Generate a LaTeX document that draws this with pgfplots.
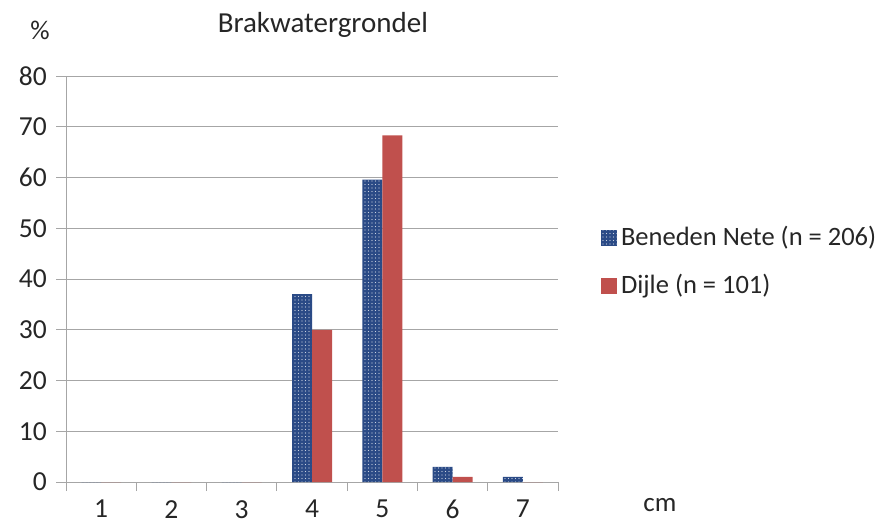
\documentclass[border=0pt]{standalone}
\usepackage{pgfplots}
\pgfplotsset{compat=1.18}
\usepackage{fontspec}
\setmainfont{Carlito}
\usetikzlibrary{patterns}
\pgfdeclarepatternformonly{bigdots}{\pgfqpoint{-1pt}{-1pt}}{\pgfqpoint{3pt}{3pt}}{\pgfqpoint{3.5pt}{3.5pt}}{\pgfpathcircle{\pgfqpoint{1pt}{1pt}}{0.65pt}\pgfusepath{fill}}
\definecolor{bnblue}{HTML}{2A4A86}
\definecolor{djred}{HTML}{C0504D}
\definecolor{gridgray}{HTML}{A6A6A6}
\definecolor{txt}{HTML}{262626}
\begin{document}
\fontsize{27}{32}\selectfont
\begin{tikzpicture}
\path[use as bounding box] (0,0) rectangle (881pt,525pt);
\begin{axis}[
  at={(66pt,43pt)}, anchor=south west,
  scale only axis, width=492pt, height=406pt,
  xmin=0.5, xmax=7.5, ymin=0, ymax=80,
  ybar=0pt, bar width=20pt,
  xtick={1,...,7},
  major x tick style={draw=none},
  minor xtick={0.5,1.5,...,7.5},
  minor tick length=9pt, major tick length=10pt,
  tick align=outside,
  ytick={0,10,...,80},
  ymajorgrids, grid style={gridgray, line width=1pt},
  axis x line*=bottom, axis y line*=left,
  axis line style={gridgray, line width=1pt},
  tick style={gridgray, line width=1pt},
  tick label style={font=\fontsize{27.5}{32}\selectfont, text=txt},
  xticklabel style={yshift=1pt},
  /pgf/number format/assume math mode=true,
  legend style={at={(1.081,0.64)}, anchor=north west, draw=none, fill=none,
    font=\fontsize{26.5}{31}\selectfont, text=txt, row sep=20pt},
  legend cell align=left,
  legend image code/.code={\draw[#1, draw=none] (1pt,-8pt) rectangle (17pt,8pt);},
  clip=false,
]
\addplot[fill=bnblue, draw=none, postaction={pattern=bigdots, pattern color=white!75!bnblue}]
  coordinates {(1,0) (2,0) (3,0) (4,37) (5,59.6) (6,3) (7,1)};
\addlegendentry{\hspace{2pt}Beneden Nete (n = 206)}
\addplot[fill=djred, draw=none]
  coordinates {(1,0) (2,0) (3,0) (4,30) (5,68.3) (6,1) (7,0)};
\addlegendentry{\hspace{2pt}Dijle (n = 101)}
\node[text=txt, font=\fontsize{29}{34}\selectfont] at (rel axis cs:0.522,1.126) {Brakwatergrondel};
\node[text=txt, font=\fontsize{27}{32}\selectfont] at (rel axis cs:-0.053,1.113) {\%};
\node[text=txt, font=\fontsize{27}{32}\selectfont] at (rel axis cs:1.207,-0.057) {cm};
\end{axis}
\end{tikzpicture}
\end{document}
